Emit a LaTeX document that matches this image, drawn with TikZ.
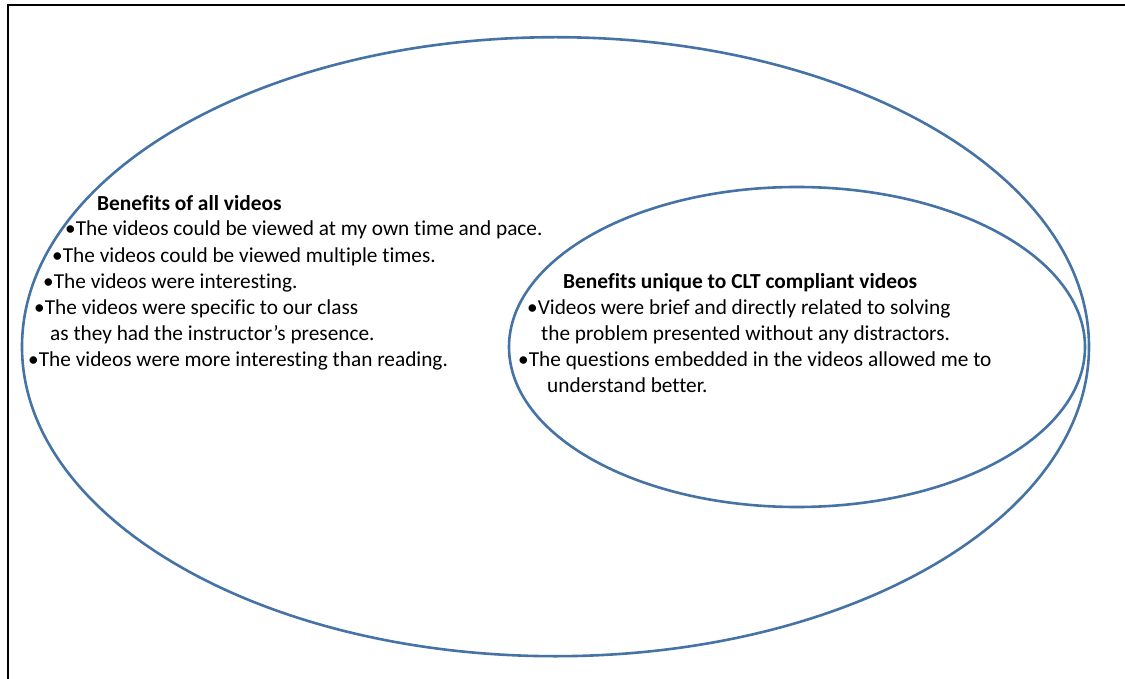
\documentclass[tikz,border=0pt]{standalone}
\usepackage{fontspec}
\setmainfont[Ligatures={NoCommon}]{Carlito}
\usepackage{xcolor}
\usepackage{tikz}
\usetikzlibrary{shapes.geometric}

\definecolor{setblue}{RGB}{70,115,165}

\begin{document}
\begin{tikzpicture}[
    x=1pt, y=-1pt,
    set/.style={draw=setblue, ellipse, line width=2.6pt, inner sep=0pt},
    head/.style={anchor=base west, inner sep=0pt, font=\fontsize{21.4}{25}\selectfont\bfseries},
    item/.style={anchor=base west, inner sep=0pt, font=\fontsize{21.3}{25}\selectfont}
]
\useasboundingbox (0,0) rectangle (1125,679);

% frame (only top and left edges show)
\draw[line width=2pt] (8,690) -- (8,5.5) -- (1130,5.5);

% Sets: all videos contains the CLT compliant ones
\node[set, minimum width=1067pt, minimum height=619pt] (allvid) at (555.5,346.7) {};
\node[set, minimum width=576pt, minimum height=320pt] (clt) at (797,347) {};

% Benefits of all videos
\node[head] (allhead) at (97,211) {Benefits of all videos};
\node[item] (all1) at (65,236) {•The videos could be viewed at my own time and pace.};
\node[item] (all2) at (52,262) {•The videos could be viewed multiple times.};
\node[item] (all3) at (43,288) {•The videos were interesting.};
\node[item] (all4) at (34,314) {•The videos were specific to our class};
\node[item] (all4b) at (50,340) {as they had the instructor’s presence.};
\node[item] (all5) at (28,366) {•The videos were more interesting than reading.};

% Benefits unique to CLT compliant videos
\node[head] (clthead) at (563,289) {Benefits unique to CLT compliant videos};
\node[item] (clt1) at (527,314) {•Videos were brief and directly related to solving};
\node[item] (clt1b) at (541,340) {the problem presented without any distractors.};
\node[item] (clt2) at (518,366) {•The questions embedded in the videos allowed me to};
\node[item] (clt2b) at (547,392) {understand better.};

\end{tikzpicture}
\end{document}
